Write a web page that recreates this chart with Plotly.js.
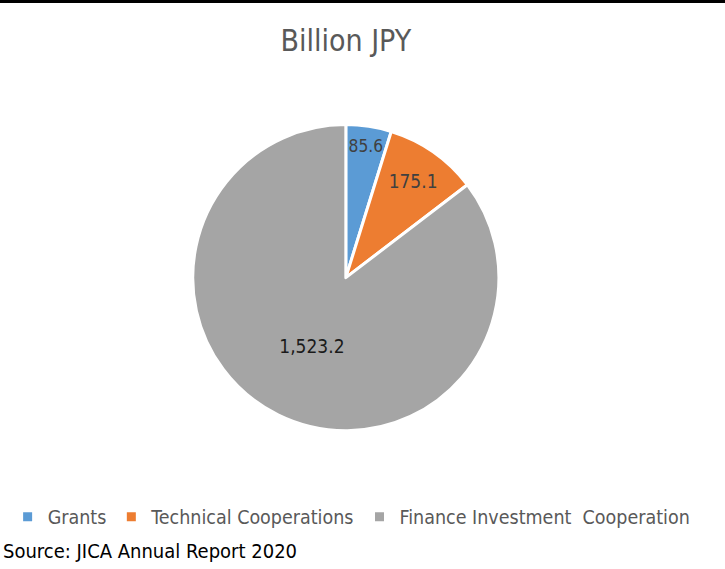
<!DOCTYPE html>
<html>
<head>
<meta charset="utf-8">
<script src="https://cdn.plot.ly/plotly-3.0.1.min.js"></script>
<style>
  html, body { margin: 0; padding: 0; background: #fff; }
  #chart { width: 725px; height: 569px; }
</style>
</head>
<body>
<div id="chart"></div>
<script>
const categories = ["Grants", "Technical Cooperations", "Finance Investment  Cooperation"];
const values = [85.6, 175.1, 1523.2];
const valueLabels = ["85.6", "175.1", "1,523.2"];
const colors = ["#5B9BD5", "#ED7D31", "#A5A5A5"];
const titleText = "Billion JPY";
const sourceText = "Source: JICA Annual Report 2020";

const FONT = "Liberation Sans Narrow, DejaVu Sans Condensed, Arial, sans-serif";

const trace = {
  type: "pie",
  labels: categories,
  values: values,
  text: valueLabels,
  textinfo: "text",
  textposition: "inside",
  insidetextorientation: "horizontal",
  hoverinfo: "label+value",
  sort: false,
  direction: "clockwise",
  rotation: 0,
  marker: { colors: colors, line: { color: "#ffffff", width: 3 } },
  insidetextfont: { family: FONT, size: 19, color: ["#404040", "#404040", "#1a1a1a"] },
  domain: { x: [0.167, 0.787], y: [0.243, 0.781] }
};

const layout = {
  width: 725,
  height: 569,
  margin: { l: 0, r: 0, t: 0, b: 0 },
  paper_bgcolor: "#ffffff",
  showlegend: true,
  title: {
    text: titleText,
    font: { family: FONT, size: 30, color: "#595959" },
    x: 0.477, xanchor: "center",
    y: 1 - 40 / 569, yanchor: "middle", yref: "container"
  },
  legend: {
    orientation: "h",
    x: 0.485, xanchor: "center",
    y: 1 - 517 / 569, yanchor: "middle",
    font: { family: FONT, size: 19.5, color: "#595959" },
    itemclick: false, itemdoubleclick: false
  },
  annotations: [{
    text: sourceText,
    xref: "paper", yref: "paper",
    x: 1 / 725, xanchor: "left",
    y: 1 - 551 / 569, yanchor: "middle",
    showarrow: false,
    font: { family: FONT, size: 20, color: "#000000" }
  }],
  shapes: [{
    type: "rect", xref: "paper", yref: "paper",
    x0: 0, x1: 1, y0: 1 - 3 / 569, y1: 1,
    fillcolor: "#000000", line: { width: 0 }
  }]
};

Plotly.newPlot("chart", [trace], layout, { displayModeBar: false });
</script>
</body>
</html>
